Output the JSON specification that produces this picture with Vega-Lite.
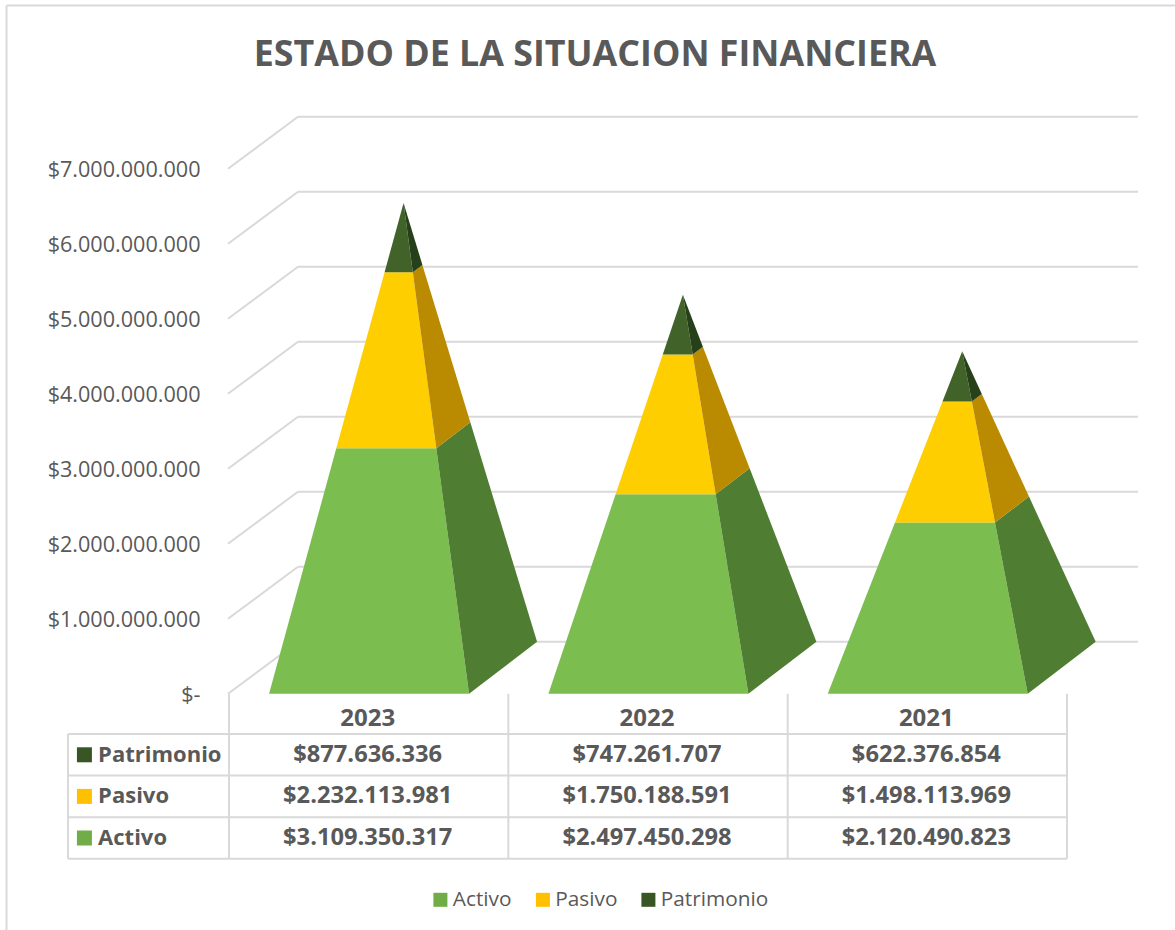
{
"$schema":"https://vega.github.io/schema/vega-lite/v6.json",
"width":838,"height":930,"autosize":{"type":"none"},
"padding":{"left":228,"right":109,"top":0,"bottom":0},
"background":"#ffffff",
"title":{"text":"ESTADO DE LA SITUACION FINANCIERA","anchor":"middle","offset":-74,"dx":-52,"fontSize":35.8,"font":"Open Sans","fontWeight":"bold","color":"#595959"},
"config":{"view":{"stroke":null},"text":{"font":"Open Sans"}},
"resolve":{"axis":{"y":"independent"},"legend":{"fill":"independent"}},
"datasets":{
"balance":[
{"anio":"2023","serie":"Activo","valor":3109350317},
{"anio":"2023","serie":"Pasivo","valor":2232113981},
{"anio":"2023","serie":"Patrimonio","valor":877636336},
{"anio":"2022","serie":"Activo","valor":2497450298},
{"anio":"2022","serie":"Pasivo","valor":1750188591},
{"anio":"2022","serie":"Patrimonio","valor":747261707},
{"anio":"2021","serie":"Activo","valor":2120490823},
{"anio":"2021","serie":"Pasivo","valor":1498113969},
{"anio":"2021","serie":"Patrimonio","valor":622376854}
],
"marcas":[{"valor":0},{"valor":1000000000},{"valor":2000000000},{"valor":3000000000},{"valor":4000000000},{"valor":5000000000},{"valor":6000000000},{"valor":7000000000}]
},
"layer":[
{"data":{"name":"marcas"},
"transform":[{"calculate":"datum.valor+693000000","as":"pared"}],
"mark":{"type":"rule","color":"#D9D9D9","strokeWidth":2},
"encoding":{
"x":{"datum":0.2506,"type":"quantitative","scale":{"domain":[0,3],"nice":false,"zero":false},"axis":null},
"x2":{"datum":3.2578},
"y":{"field":"pared","type":"quantitative","scale":{"domain":[-3150700000,9249300000],"nice":false,"zero":false},"axis":null}}},
{"data":{"name":"marcas"},
"transform":[{"calculate":"datum.valor+693000000","as":"pared"}],
"mark":{"type":"rule","color":"#D9D9D9","strokeWidth":2},
"encoding":{
"x":{"datum":0,"type":"quantitative","axis":null},
"x2":{"datum":0.2506},
"y":{"field":"valor","type":"quantitative","title":null,"axis":{"values":[0,1000000000,2000000000,3000000000,4000000000,5000000000,6000000000,7000000000],"labelExpr":"datum.value==0?'$-':'$'+replace(format(datum.value,',d'),/,/g,'.')","domain":false,"ticks":false,"grid":false,"labelPadding":28,"labelOffset":2,"labelFont":"Open Sans","labelFontSize":21.6,"labelColor":"#595959","labelFontWeight":"normal","title":null}},
"y2":{"field":"pared"}}},
{"data":{"name":"balance"},
"transform":[{"calculate":"indexof(['Patrimonio','Pasivo','Activo'],datum.serie)","as":"fila"},{"calculate":"-537300000-(datum.fila+1)*554700000","as":"piso"},{"filter":"datum.anio=='2023'"}],
"mark":{"type":"rule","color":"#D9D9D9","strokeWidth":2},
"encoding":{"x":{"datum":-0.5728,"type":"quantitative","axis":null},"x2":{"datum":3.0036},"y":{"field":"piso","type":"quantitative","axis":null}}},
{"data":{"name":"balance"},
"transform":[{"filter":"datum.serie=='Activo'"},{"calculate":"indexof(['2023','2022','2021'],datum.anio)+0.0036","as":"col"}],
"mark":{"type":"rule","color":"#D9D9D9","strokeWidth":2},
"encoding":{"x":{"field":"col","type":"quantitative","axis":null},"y":{"datum":0,"type":"quantitative","axis":null},"y2":{"datum":-2201300000}}},
{"mark":{"type":"rule","color":"#D9D9D9","strokeWidth":2},"data":{"values":[{"borde":"derecho"}]},
"encoding":{"x":{"datum":3.0036,"type":"quantitative","axis":null},"y":{"datum":0,"type":"quantitative","axis":null},"y2":{"datum":-2201300000}}},
{"mark":{"type":"rule","color":"#D9D9D9","strokeWidth":2},"data":{"values":[{"borde":"izquierdo"}]},
"encoding":{"x":{"datum":-0.5728,"type":"quantitative","axis":null},"y":{"datum":-537300000,"type":"quantitative","axis":null},"y2":{"datum":-2201300000}}},
{"mark":{"type":"rule","color":"#D9D9D9","strokeWidth":2},"data":{"values":[{"borde":"tabla"}]},
"encoding":{"x":{"datum":-0.5728,"type":"quantitative","axis":null},"x2":{"datum":3.0036},"y":{"datum":-537300000,"type":"quantitative","axis":null}}},
{"mark":{"type":"rule","color":"#D9D9D9","strokeWidth":2},"data":{"values":[{"borde":"marco izquierdo"}]},
"encoding":{"x":{"datum":-0.793,"type":"quantitative","axis":null},"y":{"datum":9176000000,"type":"quantitative","axis":null},"y2":{"datum":-3150700000}}},
{"mark":{"type":"rule","color":"#D9D9D9","strokeWidth":2},"data":{"values":[{"borde":"marco superior"}]},
"encoding":{"x":{"datum":-0.793,"type":"quantitative","axis":null},"x2":{"datum":3.39},"y":{"datum":9176000000,"type":"quantitative","axis":null}}},
{"data":{"name":"balance"},
"transform":[
{"stack":"valor","groupby":["anio"],"sort":[{"field":"serie","order":"ascending"}],"as":["b0","b1"]},
{"joinaggregate":[{"op":"sum","field":"valor","as":"total"}],"groupby":["anio"]},
{"calculate":"indexof(['2023','2022','2021'],datum.anio)","as":"col"},
{"calculate":"['frente','lado']","as":"cara"},{"flatten":["cara"]},
{"calculate":"[0,1,2,3]","as":"v"},{"flatten":["v"]},
{"calculate":"(datum.v<2?datum.b0:datum.b1)/datum.total","as":"t"},
{"calculate":"(datum.v==0||datum.v==3)?0:1","as":"u"},
{"calculate":"datum.cara=='frente'?datum.col+0.505-0.358+datum.u*0.716:datum.col+0.505+0.358+datum.u*0.2434","as":"xb"},
{"calculate":"datum.xb+datum.t*(datum.col+0.505+0.1235-datum.xb)","as":"xv"},
{"calculate":"datum.cara=='frente'?0:datum.u*693000000","as":"yb"},
{"calculate":"datum.yb+datum.t*(datum.total+324000000-datum.yb)","as":"yv"},
{"calculate":"datum.serie+' '+datum.cara","as":"tono"},
{"calculate":"datum.anio+datum.tono","as":"pieza"}
],
"mark":{"type":"line","strokeWidth":0,"interpolate":"linear"},
"encoding":{
"x":{"field":"xv","type":"quantitative","axis":null},
"y":{"field":"yv","type":"quantitative","axis":null},
"order":{"field":"v","type":"quantitative"},
"detail":{"field":"pieza"},
"fill":{"field":"tono","type":"nominal","scale":{"domain":["Activo","Pasivo","Patrimonio","Activo frente","Pasivo frente","Patrimonio frente","Activo lado","Pasivo lado","Patrimonio lado"],"range":["#70AD47","#FFC000","#375623","#7CBD50","#FFCE00","#416329","#4F7D32","#BA8A00","#26401A"]},"legend":null}}},
{"data":{"name":"balance"},
"transform":[{"filter":"datum.anio=='2023'"},{"calculate":"indexof(['Patrimonio','Pasivo','Activo'],datum.serie)","as":"fila"},{"calculate":"-814600000-datum.fila*554700000","as":"centro"},{"calculate":"datum.serie","as":"tono"}],
"mark":{"type":"point","shape":"square","filled":true,"size":225,"opacity":1,"strokeWidth":0},
"encoding":{
"x":{"datum":-0.514,"type":"quantitative","axis":null},
"y":{"field":"centro","type":"quantitative","axis":null},
"fill":{"field":"tono","type":"nominal","legend":{"title":null,"orient":"none","legendX":202,"legendY":889,"direction":"horizontal","values":["Activo","Pasivo","Patrimonio"],"symbolType":"square","symbolSize":196,"symbolStrokeWidth":0,"labelFont":"Open Sans","labelFontSize":20.8,"labelColor":"#595959","labelOffset":2,"columnPadding":20.5}}}},
{"data":{"name":"balance"},
"transform":[{"filter":"datum.anio=='2023'"},{"calculate":"indexof(['Patrimonio','Pasivo','Activo'],datum.serie)","as":"fila"},{"calculate":"-814600000-datum.fila*554700000","as":"centro"}],
"mark":{"type":"text","align":"left","baseline":"middle","font":"Open Sans","fontWeight":"bold","fontSize":22,"color":"#595959"},
"encoding":{
"x":{"datum":-0.465,"type":"quantitative","axis":null},
"y":{"field":"centro","type":"quantitative","axis":null},
"text":{"field":"serie"}}},
{"data":{"name":"balance"},
"transform":[{"filter":"datum.serie=='Activo'"},{"calculate":"indexof(['2023','2022','2021'],datum.anio)+0.5","as":"medio"}],
"mark":{"type":"text","align":"center","baseline":"middle","font":"Open Sans","fontWeight":"bold","fontSize":24,"color":"#595959"},
"encoding":{
"x":{"field":"medio","type":"quantitative","axis":null},
"y":{"datum":-344000000,"type":"quantitative","axis":null},
"text":{"field":"anio"}}},
{"data":{"name":"balance"},
"transform":[{"calculate":"indexof(['2023','2022','2021'],datum.anio)+0.5","as":"medio"},{"calculate":"indexof(['Patrimonio','Pasivo','Activo'],datum.serie)","as":"fila"},{"calculate":"-814600000-datum.fila*554700000","as":"centro"},{"calculate":"'$'+replace(format(datum.valor,',d'),/,/g,'.')","as":"etiqueta"}],
"mark":{"type":"text","align":"center","baseline":"middle","font":"Open Sans","fontWeight":"bold","fontSize":23.7,"color":"#595959"},
"encoding":{
"x":{"field":"medio","type":"quantitative","axis":null},
"y":{"field":"centro","type":"quantitative","axis":null},
"text":{"field":"etiqueta"}}}
]
}
